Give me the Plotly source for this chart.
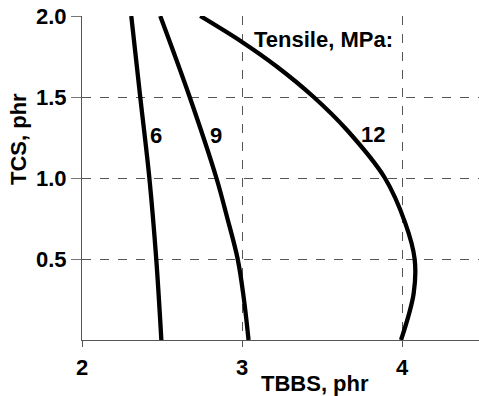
import plotly.graph_objects as go

# Contour lines of tensile strength (MPa) over TBBS / TCS loading (phr)
tensile_levels = ["6", "9", "12"]

tbbs_6 = [2.496, 2.464, 2.421, 2.364, 2.308]
tcs_6 = [0.0, 0.5, 1.0, 1.5, 2.0]

tbbs_9 = [3.041, 3.010, 2.973, 2.906, 2.840, 2.673, 2.489]
tcs_9 = [0.0, 0.267, 0.5, 0.761, 1.0, 1.5, 2.0]

tbbs_12 = [3.994, 4.073, 4.079, 4.021, 3.893, 3.656, 3.448, 3.219, 3.000, 2.739]
tcs_12 = [0.0, 0.288, 0.5, 0.72, 1.0, 1.296, 1.5, 1.687, 1.84, 2.0]

# label anchor positions (data coords) for each contour
label_x = [2.465, 2.84, 3.82]
label_y = [1.265, 1.265, 1.27]

x_ticks = [2, 3, 4]
y_ticks = [0.5, 1.0, 1.5, 2.0]
y_tick_text = ["0.5", "1.0", "1.5", "2.0"]

FONT = "Liberation Sans, Arial, sans-serif"
FS = 22

fig = go.Figure()
for xs, ys in [(tbbs_6, tcs_6), (tbbs_9, tcs_9), (tbbs_12, tcs_12)]:
    fig.add_trace(go.Scatter(
        x=xs, y=ys, mode="lines",
        line=dict(color="black", width=4.3, shape="spline", smoothing=1.0),
        showlegend=False, hoverinfo="skip", cliponaxis=False,
    ))

for txt, lx, ly in zip(tensile_levels, label_x, label_y):
    fig.add_annotation(x=lx, y=ly, text=txt, showarrow=False,
                       font=dict(family=FONT, size=FS, color="black", weight="bold"))

fig.add_annotation(x=3.064, y=1.858, text="Tensile, MPa:", showarrow=False,
                   xanchor="left",
                   font=dict(family=FONT, size=FS, color="black", weight="bold"))

# axis titles
fig.add_annotation(xref="paper", yref="paper", x=(315 - 82) / 397, y=-43 / 324,
                   text="TBBS, phr", showarrow=False, yanchor="middle",
                   font=dict(family=FONT, size=FS, color="black", weight="bold"))
fig.add_annotation(xref="paper", yref="paper", x=-64 / 397, y=(340 - 139) / 324,
                   text="TCS, phr", showarrow=False, textangle=-90,
                   xanchor="center", yanchor="middle",
                   font=dict(family=FONT, size=FS, color="black", weight="bold"))

fig.update_layout(
    width=479, height=396,
    margin=dict(l=82, r=0, t=16, b=56),
    plot_bgcolor="white", paper_bgcolor="white",
    font=dict(family=FONT, size=FS, color="black", weight="bold"),
    showlegend=False,
)
fig.update_xaxes(
    range=[2, 2 + 397 / 160], tickvals=x_ticks,
    showgrid=True, gridcolor="#555555", griddash="dash", gridwidth=1,
    showline=True, linecolor="#555555", linewidth=1,
    ticks="outside", ticklen=6, tickcolor="#555555",
    zeroline=False, ticklabelstandoff=2,
)
fig.update_yaxes(
    range=[0, 2], tickvals=y_ticks, ticktext=y_tick_text,
    showgrid=True, gridcolor="#555555", griddash="dash", gridwidth=1,
    showline=True, linecolor="#555555", linewidth=1,
    ticks="outside", ticklen=10, tickcolor="#777777",
    zeroline=False,
)

fig.write_html("out.html")
